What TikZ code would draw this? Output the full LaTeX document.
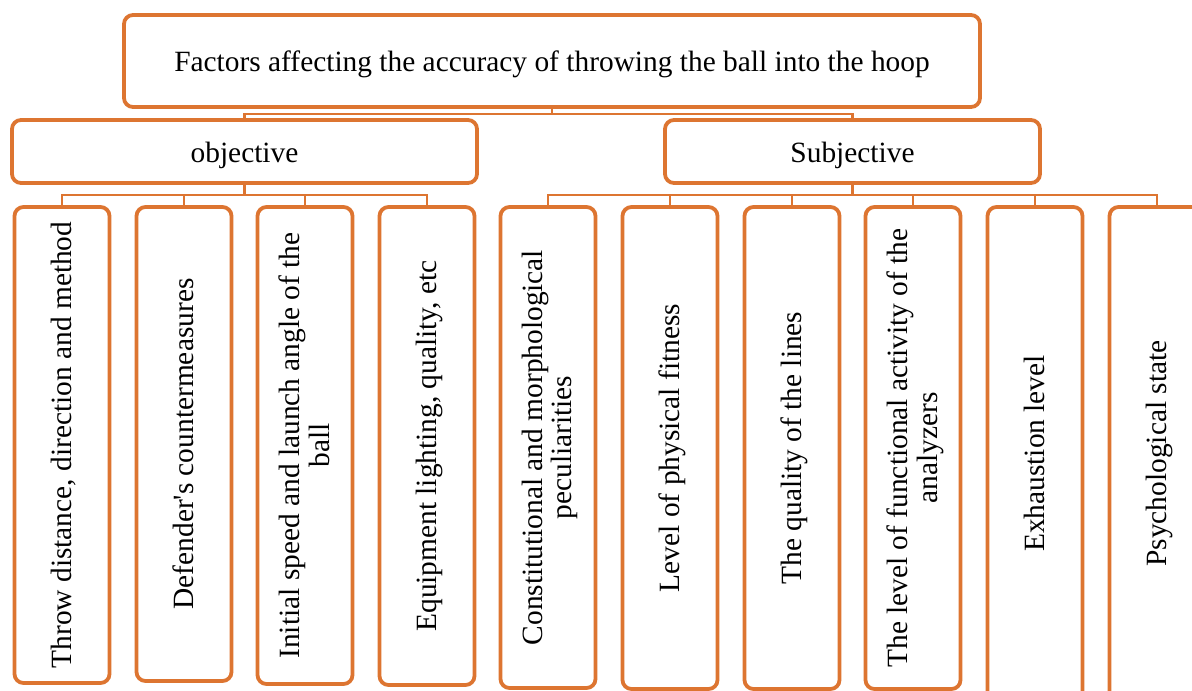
\documentclass[tikz,border=0pt]{standalone}
\usepackage{fontspec}
\setmainfont{Liberation Serif}
\definecolor{orng}{RGB}{221,117,49}
\newcommand{\vtext}[1]{\hspace*{7pt}\rotatebox{90}{\begin{tabular}{@{}c@{}}#1\end{tabular}}}
\begin{document}
\begin{tikzpicture}[x=1pt,y=-1pt,
  box/.style={draw=orng, line width=3.8pt, rounded corners=9pt, fill=white,
    inner sep=0pt, font=\fontsize{29.4}{29}\selectfont, align=center},
  headbox/.style={box, text height=24pt, text depth=3pt},
  leafbox/.style={box, minimum width=95pt},
  conn/.style={draw=orng, line width=2.5pt}]
\useasboundingbox (0,0) rectangle (1192,691);
\clip (0,0) rectangle (1192,691);
\fill[white] (0,0) rectangle (1192,691);

\coordinate (bus1) at (552,114);
\coordinate (bus2) at (244.5,195);
\coordinate (bus3) at (852.5,195);

\node[headbox, minimum width=856pt, minimum height=92pt] (top) at (552,61)
  {Factors affecting the accuracy of throwing the ball into the hoop};
\node[headbox, minimum width=465pt, minimum height=63pt] (obj) at (244.5,151.5) {objective};
\node[headbox, minimum width=375pt, minimum height=63pt] (subj) at (852.5,151.5) {Subjective};

\node[leafbox, minimum height=476pt] (l1) at (62,445) {\vtext{Throw distance, direction and method}};
\node[leafbox, minimum height=474pt] (l2) at (184,444) {\vtext{Defender\textquotesingle s countermeasures}};
\node[leafbox, minimum height=477pt] (l3) at (305,445.5) {\vtext{Initial speed and launch angle of the\\ ball}};
\node[leafbox, minimum height=478pt] (l4) at (427,446) {\vtext{Equipment lighting, quality, etc}};
\node[leafbox, minimum height=481pt] (l5) at (548,447.5) {\vtext{Constitutional and morphological\\ peculiarities}};
\node[leafbox, minimum height=482pt] (l6) at (670,448) {\vtext{Level of physical fitness}};
\node[leafbox, minimum height=482pt] (l7) at (792,448) {\vtext{The quality of the lines}};
\node[leafbox, minimum height=482pt] (l8) at (913,448) {\vtext{The level of functional activity of the\\ analyzers}};
\node[leafbox, minimum height=493pt] (l9) at (1035,453.5) {\vtext{Exhaustion level}};
\node[leafbox, minimum height=493pt] (l10) at (1157,453.5) {\vtext{Psychological state}};

\draw[conn] (top.south) -- (bus1);
\draw[conn] (obj.north) |- (bus1) -| (subj.north);

\draw[conn] (obj.south) -- (bus2);
\draw[conn] (l1.north) |- (bus2) -| (l4.north);
\draw[conn] (l2.north) -- (l2.north |- bus2);
\draw[conn] (l3.north) -- (l3.north |- bus2);

\draw[conn] (subj.south) -- (bus3);
\draw[conn] (l5.north) |- (bus3) -| (l10.north);
\draw[conn] (l6.north) -- (l6.north |- bus3);
\draw[conn] (l7.north) -- (l7.north |- bus3);
\draw[conn] (l8.north) -- (l8.north |- bus3);
\draw[conn] (l9.north) -- (l9.north |- bus3);
\end{tikzpicture}
\end{document}
